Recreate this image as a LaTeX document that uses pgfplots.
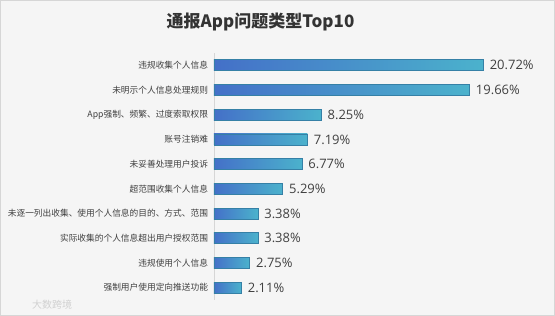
\documentclass[border=0pt]{standalone}
\usepackage{pgfplots}
\pgfplotsset{compat=1.18}
\usepackage{fontspec}
\setmainfont{Open Sans}
\newfontfamily\cjk{Noto Sans CJK SC}
\definecolor{bg}{HTML}{F5F5F5}
\definecolor{frame}{HTML}{D6D6D6}
\definecolor{barL}{HTML}{4470C8}
\definecolor{barR}{HTML}{4BB2CC}
\definecolor{barD}{HTML}{3580A6}
\definecolor{txt}{HTML}{404040}
\definecolor{ttl}{HTML}{333333}
\pgfplotsset{
  gbar/.style={xbar, bar width=11pt, bar shift=0pt, left color=barL, right color=barR, draw=barD, line width=0.8pt,
  nodes near coords={\pgfmathprintnumber[fixed,fixed zerofill,precision=2]{\pgfplotspointmeta}\%},
  point meta=x,
  every node near coord/.append style={font=\fontsize{13}{15}\selectfont, text=txt, anchor=west, xshift=4pt, inner sep=2pt}}
}
\begin{document}
\begin{tikzpicture}
\fill[bg] (0pt,0pt) rectangle (555pt,316pt);
\draw[frame,line width=1pt] (0.5pt,0.5pt) rectangle (554.5pt,315.5pt);
\node[font=\cjk\bfseries\fontsize{17}{20}\selectfont,text=ttl] at (260.5pt,294pt) {通报App问题类型Top10};
\node[font=\cjk\fontsize{10}{12}\selectfont,text=black!18] at (52pt,11pt) {大数跨境};
\begin{axis}[
  at={(214pt,16pt)}, anchor=south west,
  scale only axis, width=325pt, height=247pt,
  xmin=0, xmax=25, ymin=-0.5, ymax=9.5,
  y dir=reverse,
  axis x line=none,
  axis y line*=left,
  axis line style={-, draw=frame},
  ytick={0,...,9},
  yticklabels={违规收集个人信息,未明示个人信息处理规则,App强制、频繁、过度索取权限,账号注销难,未妥善处理用户投诉,超范围收集个人信息,未逐一列出收集、使用个人信息的目的、方式、范围,实际收集的个人信息超出用户授权范围,违规使用个人信息,强制用户使用定向推送功能},
  yticklabel style={font=\cjk\fontsize{8.7}{10}\selectfont, text=txt, xshift=-2.5pt},
  major tick length=0pt,
  /pgf/number format/assume math mode=true,
  clip=false,
]
\addplot[gbar] coordinates {(20.72,0)};
\addplot[gbar] coordinates {(19.66,1)};
\addplot[gbar] coordinates {(8.25,2)};
\addplot[gbar] coordinates {(7.19,3)};
\addplot[gbar] coordinates {(6.77,4)};
\addplot[gbar] coordinates {(5.29,5)};
\addplot[gbar] coordinates {(3.38,6)};
\addplot[gbar] coordinates {(3.38,7)};
\addplot[gbar] coordinates {(2.75,8)};
\addplot[gbar] coordinates {(2.11,9)};
\end{axis}
\end{tikzpicture}
\end{document}
